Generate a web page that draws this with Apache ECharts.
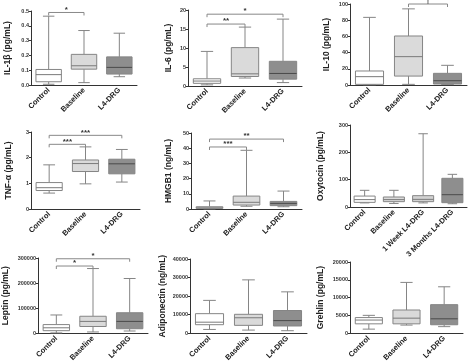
<!DOCTYPE html>
<html><head><meta charset="utf-8">
<script src="https://cdn.jsdelivr.net/npm/echarts@6/dist/echarts.min.js"></script>
<style>html,body{margin:0;padding:0;background:#fff}#c{width:474px;height:364px}</style>
</head><body><div id="c"></div>
<script>
// ---- data: [min, Q1, median, Q3, max] per category ----
const cat3 = ['Control', 'Baseline', 'L4-DRG'];
const cat4 = ['Control', 'Baseline', '1 Week L4-DRG', '3 Months L4-DRG'];

const il1bValues = [[0.005, 0.022, 0.07, 0.105, 0.465], [0.016, 0.107, 0.13, 0.207, 0.368], [0.056, 0.074, 0.119, 0.19, 0.35]];
const il1bSig = [[0, 1, 0.49, '*']];

const il6Values = [[0.3, 0.7, 1.3, 1.9, 9.1], [2.1, 2.5, 3.2, 10.1, 15.5], [0.9, 1.8, 3.3, 6.5, 17.6]];
const il6Sig = [[0, 1, 16.3, '**'], [0, 2, 18.9, '*']];

const il10Values = [[0.3, 0.8, 10.3, 17.3, 83.5], [0.8, 11, 35, 60.5, 94], [0.5, 1.2, 5.3, 14.4, 24.3]];
const il10Sig = [[1, 2, 100, '†']];

const tnfValues = [[0.62, 0.72, 0.83, 1.03, 1.72], [0.98, 1.46, 1.77, 1.91, 2.42], [1.05, 1.37, 1.76, 1.94, 2.32]];
const tnfSig = [[0, 1, 2.52, '***'], [0, 2, 2.87, '***']];

const hmgbValues = [[0.1, 0.4, 0.8, 1.5, 5.3], [1.8, 2.6, 4.4, 8.5, 38.6], [1.5, 2.2, 3.7, 5.0, 11.8]];
const hmgbSig = [[0, 1, 40.8, '***'], [0, 2, 46, '**']];

const oxyValues = [[15, 17, 27, 40, 61], [13, 19.5, 27, 36.6, 61], [15, 19.5, 28, 41.5, 268], [12, 15.8, 45, 105, 119.5]];
const oxySig = [];

const leptinValues = [[1300, 10200, 21700, 34500, 72800], [5100, 26800, 47200, 67700, 257900], [8900, 17900, 47200, 81700, 218300]];
const leptinSig = [[0, 1, 268000, '*'], [0, 2, 297000, '*']];

const adipoValues = [[2040, 4600, 5960, 10550, 17700], [1700, 4250, 8340, 10200, 28760], [1360, 3900, 6800, 12250, 22300]];
const adipoSig = [];

const grehlinValues = [[1150, 2640, 3700, 4400, 5020], [2290, 2640, 4230, 6520, 14270], [1850, 2380, 4050, 8020, 13040]];
const grehlinSig = [];

// ---- panels (layout/style) ----
const panels = [
  {name: 'IL-1β (pg/mL)', cats: cat3, vals: il1bValues, sig: il1bSig, max: 0.5, interval: 0.1, dec: 1, left: 31, width: 106, top: 11, height: 74, gap: 19},
  {name: 'IL-6 (pg/mL)', cats: cat3, vals: il6Values, sig: il6Sig, max: 20, interval: 5, dec: 0, left: 188, width: 114, top: 10, height: 76, gap: 15},
  {name: 'IL-10 (pg/mL)', cats: cat3, vals: il10Values, sig: il10Sig, max: 100, interval: 20, dec: 0, left: 350, width: 117, top: 4, height: 81, gap: 19},
  {name: 'TNF-α (pg/mL)', cats: cat3, vals: tnfValues, sig: tnfSig, max: 3, interval: 1, dec: 0, left: 31, width: 109, top: 132, height: 77, gap: 18},
  {name: 'HMGB1 (ng/mL)', cats: cat3, vals: hmgbValues, sig: hmgbSig, max: 50, interval: 10, dec: 0, left: 191, width: 111, top: 133, height: 76, gap: 18},
  {name: 'Oxytocin (pg/mL)', cats: cat4, vals: oxyValues, sig: oxySig, max: 300, interval: 100, dec: 0, left: 350, width: 117, top: 125, height: 82, gap: 25},
  {name: 'Leptin (pg/mL)', cats: cat3, vals: leptinValues, sig: leptinSig, max: 300000, interval: 100000, dec: 0, left: 32, width: 116, top: 258, height: 79, gap: 28},
  {name: 'Adiponectin (ng/mL)', cats: cat3, vals: adipoValues, sig: adipoSig, max: 40000, interval: 10000, dec: 0, left: 190, width: 117, top: 259, height: 78, gap: 23},
  {name: 'Grehlin (pg/mL)', cats: cat3, vals: grehlinValues, sig: grehlinSig, max: 20000, interval: 5000, dec: 0, left: 350, width: 113, top: 262, height: 75, gap: 25}
];

const fillMap = {'Control': '#ffffff', 'Baseline': '#dadada', '1 Week L4-DRG': '#d2d2d2', '3 Months L4-DRG': '#8e8e8e', 'L4-DRG': '#8e8e8e'};
const FONT = '"Liberation Sans", Arial, sans-serif';

const grid = [], xAxis = [], yAxis = [], series = [];
panels.forEach((p, i) => {
  grid.push({left: p.left, top: p.top, width: p.width, height: p.height, containLabel: false});
  xAxis.push({
    type: 'category', gridIndex: i, data: p.cats, boundaryGap: true,
    axisLine: {lineStyle: {color: '#333', width: 1}},
    axisTick: {alignWithLabel: true, length: 3, lineStyle: {color: '#333'}},
    axisLabel: {rotate: 45, fontSize: 7.5, fontWeight: 'bold', color: '#222', margin: 4, fontFamily: FONT, interval: 0},
    splitLine: {show: false}
  });
  yAxis.push({
    type: 'value', gridIndex: i, min: 0, max: p.max, interval: p.interval,
    name: p.name, nameLocation: 'middle', nameGap: p.gap,
    nameTextStyle: {fontSize: 8.5, fontWeight: 'bold', color: '#222', fontFamily: FONT},
    axisLine: {show: true, lineStyle: {color: '#333', width: 1}},
    axisTick: {show: true, length: 2, lineStyle: {color: '#333'}},
    axisLabel: {fontSize: 5.5, fontWeight: 'bold', color: '#333', margin: 2, fontFamily: FONT,
      formatter: v => v.toFixed(p.dec)},
    splitLine: {show: false}
  });
  series.push({
    type: 'custom', xAxisIndex: i, yAxisIndex: i, clip: false,
    data: p.vals.map((v, k) => [k].concat(v)),
    renderItem: (params, api) => {
      const k = api.value(0);
      const band = api.size([1, 0])[0];
      const bw = band * 0.72, cw = bw * 0.45;
      const pMin = api.coord([k, api.value(1)]);
      const pQ1 = api.coord([k, api.value(2)]);
      const pMed = api.coord([k, api.value(3)]);
      const pQ3 = api.coord([k, api.value(4)]);
      const pMax = api.coord([k, api.value(5)]);
      const x = pMin[0];
      const fill = fillMap[p.cats[k]];
      const dark = fill === '#8e8e8e';
      const lc = '#858585';
      const ls = {stroke: lc, lineWidth: 1};
      return {type: 'group', children: [
        {type: 'line', shape: {x1: x, y1: pMax[1], x2: x, y2: pQ3[1]}, style: ls},
        {type: 'line', shape: {x1: x, y1: pQ1[1], x2: x, y2: pMin[1]}, style: ls},
        {type: 'line', shape: {x1: x - cw / 2, y1: pMax[1], x2: x + cw / 2, y2: pMax[1]}, style: ls},
        {type: 'line', shape: {x1: x - cw / 2, y1: pMin[1], x2: x + cw / 2, y2: pMin[1]}, style: ls},
        {type: 'rect', shape: {x: x - bw / 2, y: pQ3[1], width: bw, height: pQ1[1] - pQ3[1]}, style: {fill: fill, stroke: lc, lineWidth: 1}},
        {type: 'line', shape: {x1: x - bw / 2, y1: pMed[1], x2: x + bw / 2, y2: pMed[1]}, style: {stroke: dark ? '#4a4a4a' : '#7a7a7a', lineWidth: 1}}
      ]};
    }
  });
  if (p.sig.length) {
    series.push({
      type: 'custom', xAxisIndex: i, yAxisIndex: i, clip: false,
      data: p.sig.map(s => [s[0], s[1], s[2]]),
      renderItem: (params, api) => {
        const a = api.coord([api.value(0), api.value(2)]);
        const b = api.coord([api.value(1), api.value(2)]);
        const lab = p.sig[params.dataIndex][3];
        return {type: 'group', children: [
          {type: 'polyline', shape: {points: [[a[0], a[1] + 3], [a[0], a[1]], [b[0], b[1]], [b[0], b[1] + 3]]}, style: {stroke: '#888', lineWidth: 1, fill: null}},
          {type: 'text', style: {text: lab, x: (a[0] + b[0]) / 2, y: a[1] + 1, align: 'center', verticalAlign: 'bottom', fontSize: 8, fontWeight: 'bold', fill: '#333', font: 'bold 8px ' + FONT}}
        ]};
      }
    });
  }
});

const chart = echarts.init(document.getElementById('c'), null, {renderer: 'canvas'});
chart.setOption({animation: false, backgroundColor: '#fff', grid, xAxis, yAxis, series});
</script>
</body></html>
